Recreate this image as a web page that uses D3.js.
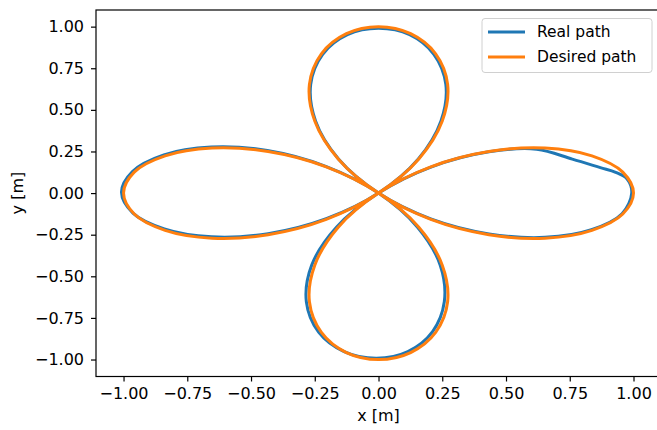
<!DOCTYPE html>
<html>
<head>
<meta charset="utf-8">
<script src="https://cdn.jsdelivr.net/npm/d3@7"></script>
<style>
  body { margin: 0; background: #fff; }
  svg { display: block; }
  text { font-family: "DejaVu Sans", sans-serif; fill: #000; }
</style>
</head>
<body>
<div id="canvas"></div>
<script>
"use strict"

/* Data: [x, y] in metres */
let desiredPath = [
  [1.000, 0.000], [0.958, 0.126], [0.837, 0.224], [0.653, 0.271], [0.433, 0.250], [0.205, 0.158],
  [0.000, 0.000], [-0.158, -0.205], [-0.250, -0.433], [-0.271, -0.653], [-0.224, -0.837], [-0.126, -0.958],
  [0.000, -1.000], [0.126, -0.958], [0.224, -0.837], [0.271, -0.653], [0.250, -0.433], [0.158, -0.205],
  [0.000, 0.000], [-0.205, 0.158], [-0.433, 0.250], [-0.653, 0.271], [-0.837, 0.224], [-0.958, 0.126],
  [-1.000, 0.000], [-0.958, -0.126], [-0.837, -0.224], [-0.653, -0.271], [-0.433, -0.250], [-0.205, -0.158],
  [0.000, 0.000], [0.158, 0.205], [0.250, 0.433], [0.271, 0.653], [0.224, 0.837], [0.126, 0.958],
  [0.000, 1.000], [-0.126, 0.958], [-0.224, 0.837], [-0.271, 0.653], [-0.250, 0.433], [-0.158, 0.205],
  [0.000, 0.000], [0.205, -0.158], [0.433, -0.250], [0.653, -0.271], [0.837, -0.224], [0.958, -0.126]
];

let realPath = [
  [0.993, 0.000], [0.975, 0.085], [0.930, 0.125], [0.870, 0.153], [0.760, 0.204], [0.620, 0.264],
  [0.433, 0.248], [0.203, 0.155],
  [0.000, 0.000], [-0.165, -0.205], [-0.262, -0.433], [-0.283, -0.653], [-0.235, -0.835], [-0.135, -0.952],
  [-0.008, -0.992], [0.115, -0.952], [0.212, -0.832], [0.258, -0.653], [0.242, -0.433], [0.153, -0.205],
  [0.000, 0.000], [-0.207, 0.161], [-0.436, 0.256], [-0.656, 0.277], [-0.842, 0.230], [-0.965, 0.130],
  [-1.008, 0.005], [-0.963, -0.120], [-0.840, -0.215], [-0.655, -0.263], [-0.433, -0.244], [-0.205, -0.154],
  [0.000, 0.000], [0.156, 0.205], [0.245, 0.433], [0.264, 0.653], [0.217, 0.834], [0.122, 0.952],
  [0.000, 0.990], [-0.122, 0.952], [-0.219, 0.834], [-0.266, 0.653], [-0.247, 0.433], [-0.157, 0.205],
  [0.000, 0.000], [0.205, -0.155], [0.433, -0.245], [0.653, -0.266], [0.835, -0.220], [0.955, -0.124]
];

let xTicks = [-1.00, -0.75, -0.50, -0.25, 0.00, 0.25, 0.50, 0.75, 1.00];
let yTicks = [-1.00, -0.75, -0.50, -0.25, 0.00, 0.25, 0.50, 0.75, 1.00];
let seriesNames = ["Real path", "Desired path"];
let seriesColors = ["#1f77b4", "#ff7f0e"];

/* Canvas */
let drawing = d3.select("#canvas")
    .append("svg")
    .attr("width", 657)
    .attr("height", 430);

/* Plot area: right spine falls just outside the picture */
let plotLeft = 96, plotRight = 659, plotTop = 10, plotBottom = 376.5;

let x = d3.scaleLinear().domain([-1.108, 1.1]).range([plotLeft, plotRight]);
let y = d3.scaleLinear().domain([-1.102, 1.1]).range([plotBottom, plotTop]);

let fmt = d3.format(".2f");

/* Axes */
let xAxis = drawing.append("g")
    .attr("transform", "translate(0," + plotBottom + ")")
    .call(d3.axisBottom(x).tickValues(xTicks).tickFormat(fmt).tickSizeOuter(0).tickSize(5).tickPadding(6));

let yAxis = drawing.append("g")
    .attr("transform", "translate(" + plotLeft + ",0)")
    .call(d3.axisLeft(y).tickValues(yTicks).tickFormat(fmt).tickSizeOuter(0).tickSize(5).tickPadding(7));

drawing.selectAll(".tick text").attr("font-size", 16).attr("font-family", "DejaVu Sans");
drawing.selectAll(".domain").remove();
drawing.selectAll(".tick line").attr("stroke", "#000").attr("stroke-width", 1.2);

/* Spines */
let frame = drawing.append("rect")
    .attr("x", plotLeft).attr("y", plotTop)
    .attr("width", plotRight - plotLeft).attr("height", plotBottom - plotTop)
    .attr("fill", "none")
    .attr("stroke", "#000")
    .attr("stroke-width", 1.2);

/* Paths */
let line = d3.line()
    .x(d => x(d[0]))
    .y(d => y(d[1]))
    .curve(d3.curveCatmullRomClosed.alpha(0.5));

let realLine = drawing.append("path")
    .datum(realPath)
    .attr("d", line)
    .attr("fill", "none")
    .attr("stroke", seriesColors[0])
    .attr("stroke-width", 3);

let desiredLine = drawing.append("path")
    .datum(desiredPath)
    .attr("d", line)
    .attr("fill", "none")
    .attr("stroke", seriesColors[1])
    .attr("stroke-width", 3);

/* Axis labels */
let xLabel = drawing.append("text")
    .attr("x", x(0))
    .attr("y", 421)
    .attr("text-anchor", "middle")
    .attr("font-size", 16)
    .text("x [m]");

let yLabel = drawing.append("text")
    .attr("transform", "translate(23," + y(0) + ") rotate(-90)")
    .attr("text-anchor", "middle")
    .attr("font-size", 16)
    .text("y [m]");

/* Legend */
let legend = drawing.append("g");

legend.append("rect")
    .attr("x", 482).attr("y", 18.5)
    .attr("width", 170).attr("height", 54)
    .attr("rx", 3)
    .attr("fill", "#fff")
    .attr("fill-opacity", 0.8)
    .attr("stroke", "#d0d0d0");

seriesNames.forEach(function (name, i) {
    legend.append("line")
        .attr("x1", 488).attr("x2", 525)
        .attr("y1", 32 + i * 25).attr("y2", 32 + i * 25)
        .attr("stroke", seriesColors[i])
        .attr("stroke-width", 3);
    legend.append("text")
        .attr("x", 537)
        .attr("y", 32 + i * 25)
        .attr("dy", "0.35em")
        .attr("font-size", 15.5)
        .text(name);
});
</script>
</body>
</html>
